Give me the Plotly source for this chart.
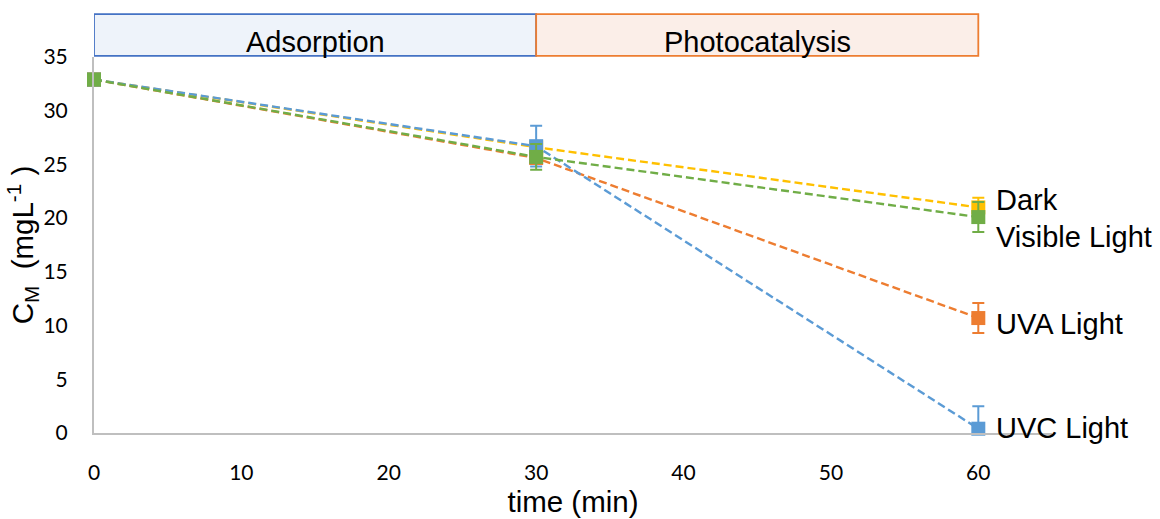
import plotly.graph_objects as go

time_min = [0, 30, 60]
series_names = ["Dark", "UVA Light", "UVC Light", "Visible Light"]
dark = [32.9, 26.6, 21.0]
dark_err = [0.0, 0.0, 0.9]
uva = [32.9, 25.6, 10.7]
uva_err = [0.0, 0.0, 1.4]
uvc = [32.9, 26.7, 0.4]
uvc_err = [0.0, 1.9, 2.1]
visible = [32.9, 25.7, 20.1]
visible_err = [0.0, 1.2, 1.4]
colors = ["#FFC000", "#ED7D31", "#5B9BD5", "#70AD47"]
phases = ["Adsorption", "Photocatalysis"]
phase_bounds = [0, 30, 60]
x_ticks = [0, 10, 20, 30, 40, 50, 60]
y_ticks = [0, 5, 10, 15, 20, 25, 30, 35]

values = [dark, uva, uvc, visible]
errors = [dark_err, uva_err, uvc_err, visible_err]
label_shift = [7, -6, 1, -20]

fig = go.Figure()
for name, ys, errs, col in zip(series_names, values, errors, colors):
    fig.add_trace(go.Scatter(
        x=time_min, y=ys, name=name, mode="lines+markers",
        line=dict(color=col, width=2.4, dash="8px,4px"),
        marker=dict(symbol="square", size=14, color=col),
        error_y=dict(type="data", array=errs, visible=True, color=col,
                     thickness=2, width=6),
        cliponaxis=False, showlegend=False,
    ))

ann_font = dict(family="Liberation Sans, Arial", size=29, color="#000000")
for name, ys, sh in zip(series_names, values, label_shift):
    fig.add_annotation(x=time_min[-1], y=ys[-1], xref="x", yref="y", text=name,
                       showarrow=False, xanchor="left", yanchor="middle",
                       xshift=16, yshift=sh, font=ann_font)

fills = ["#EEF3FA", "#FBEEE8"]
borders = ["#4472C4", "#ED7D31"]
for i, ph in enumerate(phases):
    fig.add_shape(type="rect", xref="x", yref="paper",
                  x0=phase_bounds[i], x1=phase_bounds[i + 1], y0=1.003, y1=1.114,
                  fillcolor=fills[i], line=dict(color=borders[i], width=1.8),
                  layer="above")
    fig.add_annotation(x=(phase_bounds[i] + phase_bounds[i + 1]) / 2, y=1.04,
                       xref="x", yref="paper", text=ph, showarrow=False,
                       yanchor="middle", font=ann_font)

tick_font = dict(family="Lato, Noto Sans", size=21, color="#000000")
title_font = dict(family="Liberation Sans, Arial", size=29.5, color="#000000")
fig.update_layout(
    width=1160, height=519,
    margin=dict(l=94, r=108, t=57, b=86),
    plot_bgcolor="white", paper_bgcolor="white",
    xaxis=dict(range=[0, 65], tickvals=x_ticks, showgrid=False, zeroline=False,
               showline=True, linecolor="#BFBFBF", linewidth=2, automargin=False,
               ticks="outside", ticklen=20, tickcolor="rgba(0,0,0,0)",
               tickfont=tick_font,
               title=dict(text="time (min)", font=title_font, standoff=8)),
    yaxis=dict(range=[0, 35], tickvals=y_ticks, showgrid=False, zeroline=False,
               showline=True, linecolor="#BFBFBF", linewidth=2, automargin=False,
               ticks="outside", ticklen=20, tickcolor="rgba(0,0,0,0)",
               tickfont=tick_font,
               title=dict(text="C<sub>M</sub>  (mgL<sup>-1</sup> )", font=title_font,
                          standoff=0)),
)

fig.write_html("out.html")
